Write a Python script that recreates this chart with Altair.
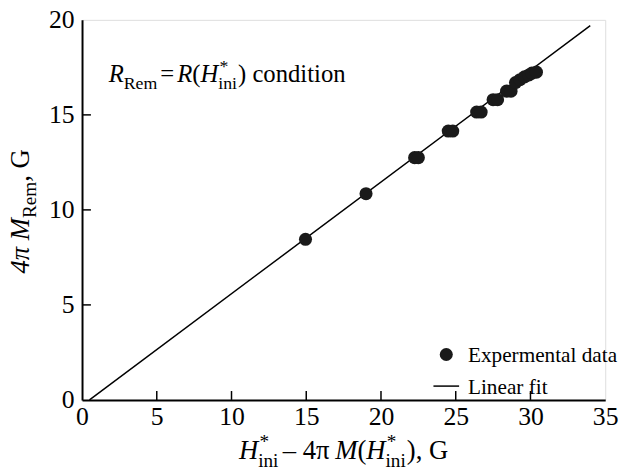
import altair as alt
import pandas as pd

# ---------------- data ----------------
exp_x = [14.95, 19.0, 22.25, 22.5, 24.5, 24.8, 26.4, 26.7, 27.5, 27.8, 28.4, 28.7,
         29.0, 29.3, 29.6, 29.9, 30.1, 30.4]
exp_y = [8.45, 10.85, 12.75, 12.75, 14.15, 14.15, 15.15, 15.15, 15.8, 15.8, 16.25, 16.25,
         16.7, 16.85, 17.0, 17.1, 17.2, 17.25]
fit_x = [0.5, 34.0]
fit_y = [0.0, 19.7]
x_ticks = [5, 10, 15, 20, 25, 30]
y_ticks = [5, 10, 15]

FONT = "Liberation Serif, Times New Roman, DejaVu Serif, serif"
W, H = 530, 385

pts = pd.DataFrame({"x": exp_x, "y": exp_y})
fit = pd.DataFrame({"x": fit_x, "y": fit_y})
xt = pd.DataFrame({"v": x_ticks})
yt = pd.DataFrame({"v": y_ticks})
one = pd.DataFrame({"a": [0]})

xs = alt.Scale(domain=[0, 35], nice=False)
ys = alt.Scale(domain=[0, 20], nice=False)

# Times-like advance widths (em)
REG = {" ": .25, "4": .5, "π": .47, "M": .889, "(": .333, ")": .333, ",": .25, "G": .722,
       "H": .722, "R": .667, "e": .444, "m": .778, "i": .278, "n": .5, "=": .564, "c": .444,
       "o": .5, "d": .5, "t": .278, "*": .5, "–": .5}
ITA = {"H": .722, "M": .833, "R": .611, "4": .5, "π": .5, " ": .25}


def width(s, size, italic=False):
    tab = ITA if italic else REG
    return sum(tab.get(c, REG.get(c, .5)) for c in s) * size


def text_layer(t, x, y, size, italic=False, angle=0):
    kw = dict(text=t, font=FONT, fontSize=size, align="left", baseline="alphabetic",
              color="black", fontStyle="italic" if italic else "normal")
    if angle:
        kw["angle"] = angle
    return alt.Chart(one).mark_text(**kw).encode(x=alt.value(x), y=alt.value(y))


def build(segs, size, total_center=None, start=None, base=0.0, rotated=False):
    """segs: list of (text, kind, italic) kind in {'n','sub','subsup','gap'}"""
    sub = 0.72 * size
    items = []
    adv = 0.0
    for t, kind, it in segs:
        if kind == "n":
            items.append((t, adv, 0.0, size, it))
            adv += width(t, size, it)
        elif kind == "gap":
            adv += t * size
        elif kind == "sub":
            items.append((t, adv, 0.28 * size, sub, False))
            adv += width(t, sub)
        elif kind == "subsup":
            items.append((t, adv, 0.28 * size, sub, False))
            items.append(("*", adv + 0.05 * size, -0.42 * size, sub, False))
            adv += width(t, sub) + 0.04 * size
    layers = []
    if not rotated:
        s0 = total_center - adv / 2 if total_center is not None else start
        for t, a, off, sz, it in items:
            layers.append(text_layer(t, s0 + a, base + off, sz, it))
    else:
        s0 = total_center + adv / 2 if total_center is not None else start
        for t, a, off, sz, it in items:
            layers.append(text_layer(t, base + off, s0 - a, sz, it, angle=270))
    return layers


# ---------------- marks ----------------
axis_common = dict(title=None, labelFont=FONT, labelFontSize=26, labelColor="black",
                   labelFlush=False, labelOverlap=False, ticks=False,
                   domainColor="black", domainWidth=2, grid=False)
line = alt.Chart(fit).mark_line(color="black", strokeWidth=1.5, clip=True).encode(
    x=alt.X("x:Q", scale=xs, axis=alt.Axis(values=[0, 5, 10, 15, 20, 25, 30, 35],
                                            labelPadding=4, **axis_common)),
    y=alt.Y("y:Q", scale=ys, axis=alt.Axis(values=[0, 5, 10, 15, 20],
                                            labelPadding=8, **axis_common)),
)

points = alt.Chart(pts).mark_circle(color="#1a1a1a", opacity=1, size=175).encode(
    x=alt.X("x:Q", scale=xs), y=alt.Y("y:Q", scale=ys))

xtick = alt.Chart(xt).mark_rule(color="black", strokeWidth=1.5).encode(
    x=alt.X("v:Q", scale=xs), y=alt.value(H), y2=alt.value(H - 9))
ytick = alt.Chart(yt).mark_rule(color="black", strokeWidth=1.5).encode(
    y=alt.Y("v:Q", scale=ys), x=alt.value(0), x2=alt.value(9))

# legend (manual)
leg_dot = alt.Chart(one).mark_circle(color="#1a1a1a", opacity=1, size=175).encode(
    x=alt.value(369), y=alt.value(339))
leg_line = alt.Chart(one).mark_rule(color="black", strokeWidth=1.5).encode(
    x=alt.value(356), x2=alt.value(382), y=alt.value(371))
leg_t1 = text_layer("Expermental data", 391, 347, 21.5)
leg_t2 = text_layer("Linear fit", 391, 379, 21.5)

# axis titles and annotation
xtitle = build([("H", "n", True), ("ini", "subsup", False), (0.12, "gap", False),
                (" – 4π", "n", False),
                ("M", "n", True), ("(", "n", False), ("H", "n", True),
                ("ini", "subsup", False), ("), G", "n", False)],
               27, total_center=W / 2, base=445)
ytitle = build([("4π", "n", True), (" ", "n", False), ("M", "n", True), ("Rem", "sub", False),
                (", G", "n", False)], 27, total_center=194, base=-54, rotated=True)
annot = build([("R", "n", True), ("Rem", "sub", False), (0.12, "gap", False), ("=", "n", False),
               (0.12, "gap", False), ("R", "n", True), ("(", "n", False), ("H", "n", True),
               ("ini", "subsup", False), (") condition", "n", False)],
              25, start=27, base=63)

chart = alt.layer(line, points, xtick, ytick, leg_dot, leg_line, leg_t1, leg_t2,
                  *xtitle, *ytitle, *annot).properties(
    width=W, height=H,
    autosize=alt.AutoSizeParams(type="none"),
    padding={"left": 75, "top": 9, "right": 16, "bottom": 70},
).configure_view(stroke="black", strokeWidth=2).configure(background="white")

chart.save("out.html", embed_options={"renderer": "svg", "actions": False})
